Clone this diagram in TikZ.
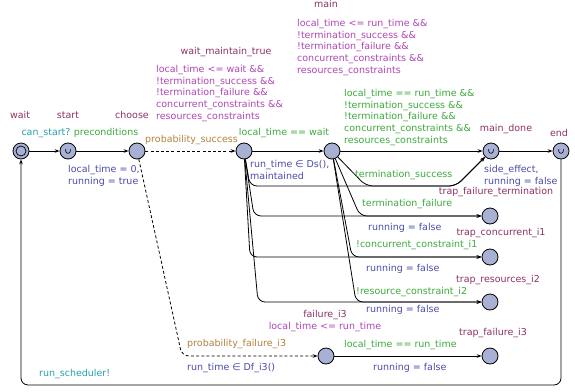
\documentclass[tikz,border=0pt]{standalone}
\usepackage{fontspec}
\setmainfont{DejaVu Sans}
\usetikzlibrary{arrows.meta}

\definecolor{locfill}{RGB}{168,176,212}
\definecolor{namecol}{RGB}{140,50,100}
\definecolor{invcol}{RGB}{175,70,180}
\definecolor{guardcol}{RGB}{60,170,60}
\definecolor{synccol}{RGB}{40,160,170}
\definecolor{updcol}{RGB}{75,75,170}
\definecolor{weightcol}{RGB}{180,130,60}

\newcommand\uplfont{\fontsize{9.5}{11.6}\selectfont}

\tikzset{
  loc/.style={circle,draw,fill=locfill,minimum size=16pt,inner sep=0pt,line width=0.8pt},
  urgent/.style={loc,path picture={\draw[line width=0.6pt]
      ([xshift=-2.3pt,yshift=1.8pt]path picture bounding box.center) -- ++(0,-1.8pt)
      arc[start angle=180,end angle=360,radius=2.3pt] -- ++(0,1.8pt);}},
  init/.style={loc,path picture={\draw[line width=0.7pt]
      (path picture bounding box.center) circle (5pt);}},
  edge/.style={draw,line width=0.8pt,rounded corners=7pt,
      -{Stealth[length=5pt,width=3.6pt]}},
  probedge/.style={edge,dash pattern=on 3pt off 2.2pt},
  lbl/.style={inner sep=0pt,font=\uplfont,text height=7pt,text depth=2pt},
  mlbl/.style={inner sep=0pt,font=\uplfont,align=left,anchor=north west},
  locname/.style={text=namecol},
  inv/.style={text=invcol},
  guard/.style={text=guardcol},
  sync/.style={text=synccol},
  upd/.style={text=updcol},
  weight/.style={text=weightcol},
}

\begin{document}
\begin{tikzpicture}[x=1pt,y=-1pt]
\useasboundingbox (0,0) rectangle (575,391);
% locations
\node[init] (wait) at (21,151) {};
\node[urgent] (start) at (68,151) {};
\node[loc] (choose) at (137,151) {};
\node[loc] (wmt) at (244,151) {};
\node[loc] (main) at (332,151) {};
\node[urgent] (mdone) at (491,151) {};
\node[urgent] (end) at (561,151) {};
\node[loc] (tfterm) at (490,216) {};
\node[loc] (tconc) at (490,257) {};
\node[loc] (tres) at (490,302) {};
\node[loc] (fail) at (326,356) {};
\node[loc] (tfail) at (490,356) {};

% location names
\node[lbl,locname] (n-wait) at (20,116) {wait};
\node[lbl,locname] (n-start) at (68,116) {start};
\node[lbl,locname] (n-choose) at (132,116) {choose};
\node[lbl,locname] (n-wmt) at (226,52) {wait\_maintain\_true};
\node[lbl,locname] (n-main) at (326,5) {main};
\node[lbl,locname] (n-mdone) at (506,129) {main\_done};
\node[lbl,locname] (n-end) at (559,134) {end};
\node[lbl,locname] (n-tfterm) at (496,192) {trap\_failure\_termination};
\node[lbl,locname] (n-tconc) at (501,233) {trap\_concurrent\_i1};
\node[lbl,locname] (n-tres) at (498,280) {trap\_resources\_i2};
\node[lbl,locname] (n-fail) at (325,315) {failure\_i3};
\node[lbl,locname] (n-tfail) at (493,333) {trap\_failure\_i3};

% invariants
\node[mlbl,inv] (i-wmt) at (156,65.3) {local\_time <= wait \&\&\\!termination\_success \&\&\\!termination\_failure \&\&\\concurrent\_constraints \&\&\\resources\_constraints};
\node[mlbl,inv] (i-main) at (297,19.3) {local\_time <= run\_time \&\&\\!termination\_success \&\&\\!termination\_failure \&\&\\concurrent\_constraints \&\&\\resources\_constraints};
\node[lbl,inv] (i-fail) at (325,327) {local\_time <= run\_time};

% transitions
\draw[edge] (wait) -- (start);
\draw[edge] (start) -- (choose);
\draw[probedge] (choose) -- (wmt);
\draw[probedge] (choose) -- (182,356) -- (fail);
\draw[edge] (wmt) -- (main);
\draw[edge] (main) -- (mdone);
\draw[edge] (mdone) -- (end);
\draw[edge] (end) -- (561,385) -- (21,385) -- (wait);
\draw[edge] (fail) -- (tfail);
\draw[edge] (wmt) -- (250,186) -- (456,186) -- (mdone);
\draw[edge] (wmt) -- (254,216) -- (tfterm);
\draw[edge] (wmt) -- (250,257) -- (tconc);
\draw[edge] (wmt) -- (258,302) -- (tres);
\draw[edge] (main) -- (366,186) -- (456,186) -- (mdone);
\draw[edge] (main) -- (360,216) -- (tfterm);
\draw[edge] (main) -- (352,257) -- (tconc);
\draw[edge] (main) -- (356,302) -- (tres);

% synchronisations
\node[lbl,sync] (s-start) at (46,133) {can\_start?};
\node[lbl,sync,anchor=west] (s-sched) at (39,374) {run\_scheduler!};

% guards
\node[lbl,guard] (g-pre) at (106,133) {preconditions};
\node[lbl,guard] (g-wait) at (284,133) {local\_time == wait};
\node[mlbl,guard] (g-main) at (344,89.3) {local\_time == run\_time \&\&\\!termination\_success \&\&\\!termination\_failure \&\&\\concurrent\_constraints \&\&\\resources\_constraints};
\node[lbl,guard,anchor=west] (g-succ) at (355,175) {termination\_success};
\node[lbl,guard,anchor=west] (g-fterm) at (362,204) {termination\_failure};
\node[lbl,guard,anchor=west] (g-conc) at (356,245) {!concurrent\_constraint\_i1};
\node[lbl,guard,anchor=west] (g-res) at (356,292) {!resource\_constraint\_i2};
\node[lbl,guard,anchor=west] (g-fail) at (344,345) {local\_time == run\_time};

% updates
\node[mlbl,upd] (u-start) at (68,165.3) {local\_time = 0,\\running = true};
\node[mlbl,upd] (u-wmt) at (250,160.3) {run\_time ∈ Ds(),\\maintained};
\node[mlbl,upd] (u-succ) at (484,165.3) {side\_effect,\\running = false};
\node[lbl,upd,anchor=west] (u-fterm) at (368,228) {running = false};
\node[lbl,upd,anchor=west] (u-conc) at (366,269) {running = false};
\node[lbl,upd,anchor=west] (u-res) at (366,310) {running = false};
\node[lbl,upd,anchor=west] (u-df) at (187,368) {run\_time ∈ Df\_i3()};
\node[lbl,upd,anchor=west] (u-fail) at (373,368) {running = false};

% probabilities
\node[lbl,weight,anchor=west] (w-succ) at (145,140) {probability\_success};
\node[lbl,weight,anchor=west] (w-fail) at (187,344) {probability\_failure\_i3};
\end{tikzpicture}
\end{document}
